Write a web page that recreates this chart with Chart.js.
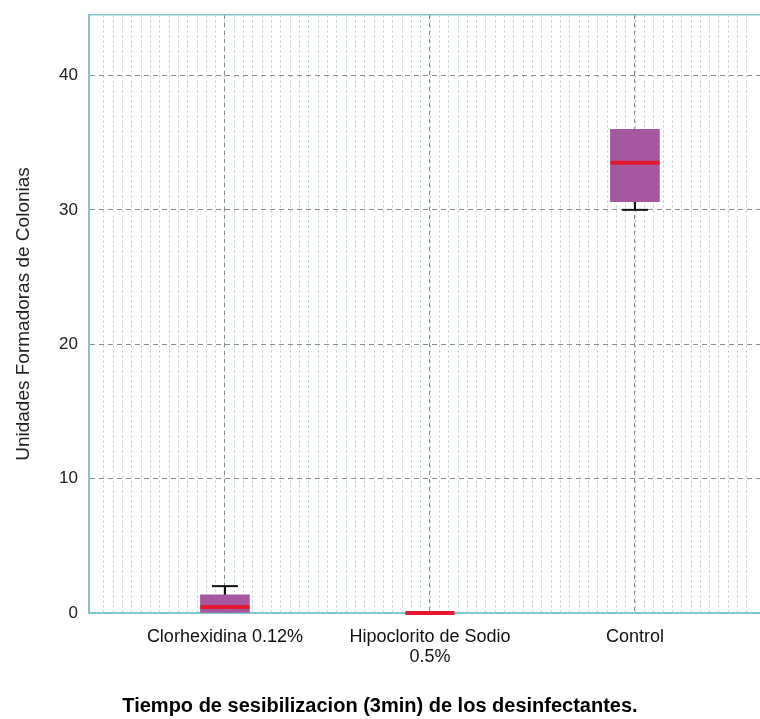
<!DOCTYPE html>
<html>
<head>
<meta charset="utf-8">
<script src="https://cdn.jsdelivr.net/npm/chart.js@4/dist/chart.umd.min.js"></script>
<style>
  html, body { margin: 0; padding: 0; background: #fff; }
  #wrap { width: 760px; height: 719px; }
</style>
</head>
<body>
<div id="wrap"><canvas id="boxChart" width="760" height="719"></canvas></div>
<script>
// data
const categories = ["Clorhexidina 0.12%", ["Hipoclorito de Sodio", "0.5%"], "Control"];
const positions = [0, 1, 2];
const q1 = [0, 0, 30.6];
const q3 = [1.35, 0, 36];
const medians = [0.45, 0, 33.5];
const whiskerLow = [0, 0, 30];
const whiskerHigh = [2, 0, 36];
const yTicks = [0, 10, 20, 30, 40];

const FONT = "'Liberation Sans', Arial, sans-serif";
const frameColor = "#7fc6c9";
const gridGray = "#8c8c8c";

const boxData = positions.map((x, i) => ({ x: x, y: [q1[i], q3[i]] }));
const upperWhisker = positions.map((x, i) => ({ x: x, y: [q3[i], whiskerHigh[i]] }));
const lowerWhisker = positions.map((x, i) => ({ x: x, y: [whiskerLow[i], q1[i]] }));
const medianData = positions.map((x, i) => ({ x: x, y: medians[i] }));
const caps = [];
positions.forEach((x, i) => {
  if (whiskerHigh[i] > q3[i]) caps.push({ x: x, y: whiskerHigh[i] });
  if (whiskerLow[i] < q1[i]) caps.push({ x: x, y: whiskerLow[i] });
});

const ctx = document.querySelector("#boxChart").getContext("2d");
const myChart = new Chart(ctx, {
  type: "bar",
  data: {
    datasets: [
      {
        data: upperWhisker,
        backgroundColor: "#111",
        barThickness: 1.5,
        grouped: false,
        order: 5,
        xAxisID: "x",
        yAxisID: "y",
      },
      {
        data: lowerWhisker,
        backgroundColor: "#111",
        barThickness: 1.5,
        grouped: false,
        order: 5,
        xAxisID: "x",
        yAxisID: "y",
      },
      {
        data: boxData,
        backgroundColor: "#a5589f",
        barThickness: 49,
        grouped: false,
        order: 4,
        xAxisID: "x",
        yAxisID: "y",
      },
      {
        type: "scatter",
        data: caps,
        pointStyle: "line",
        pointRadius: 13,
        pointBorderWidth: 2,
        pointBorderColor: "#111",
        borderColor: "#111",
        clip: false,
        order: 2,
        xAxisID: "x",
        yAxisID: "y",
      },
      {
        type: "scatter",
        data: medianData,
        pointStyle: "line",
        pointRadius: 24.5,
        pointBorderWidth: 4,
        pointBorderColor: "#e2192f",
        borderColor: "#e2192f",
        clip: false,
        order: 1,
        xAxisID: "x",
        yAxisID: "y",
      },
    ],
  },
  options: {
    responsive: false,
    animation: false,
    events: [],
    layout: { autoPadding: false, padding: { top: 15, left: 0, right: 0, bottom: 0 } },
    plugins: {
      legend: { display: false },
      tooltip: { enabled: false },
      title: {
        display: true,
        position: "bottom",
        text: "Tiempo de sesibilizacion (3min) de los desinfectantes.",
        color: "#000",
        font: { family: FONT, size: 20, weight: "bold" },
        padding: { top: 0, bottom: 1 },
      },
    },
    scales: {
      x: {
        type: "linear",
        position: "bottom",
        offset: false,
        min: -0.663,
        max: 2.61,
        afterBuildTicks: (scale) => {
          scale.ticks = positions.map((v) => ({ value: v }));
        },
        afterFit: (scale) => {
          scale.height = 81;
          scale.paddingLeft = 0;
          scale.paddingRight = 0;
        },
        ticks: {
          callback: (v) => categories[v],
          color: "#111",
          font: { family: FONT, size: 18, lineHeight: 1.12 },
          padding: 14,
          maxRotation: 0,
          autoSkip: false,
        },
        grid: { color: gridGray, drawTicks: false, lineWidth: 1, offset: false },
        border: { color: frameColor, width: 2, dash: [4, 4] },
      },
      xMinor: {
        type: "linear",
        position: "top",
        offset: false,
        min: -14.59,
        max: 57.4,
        afterFit: (scale) => {
          scale.height = 0;
          scale.paddingLeft = 0;
          scale.paddingRight = 0;
        },
        ticks: { display: false, stepSize: 1, maxTicksLimit: 200 },
        grid: { color: "rgba(110,145,155,0.5)", drawTicks: false, lineWidth: 1, offset: false },
        border: { color: frameColor, width: 1.5, dash: [2, 3] },
      },
      y: {
        min: 0,
        max: 44.5,
        afterBuildTicks: (scale) => {
          scale.ticks = yTicks.map((v) => ({ value: v }));
        },
        afterFit: (scale) => {
          scale.width = 89;
          scale.paddingTop = 0;
          scale.paddingBottom = 0;
        },
        ticks: {
          color: "#222",
          font: { family: FONT, size: 17 },
          padding: 11,
        },
        grid: {
          color: (c) => (c.tick && c.tick.value === 0 ? "rgba(0,0,0,0)" : gridGray),
          drawTicks: false,
          lineWidth: 1,
        },
        border: { color: frameColor, width: 2, dash: [5, 4] },
        title: {
          display: true,
          text: "Unidades Formadoras de Colonias",
          color: "#222",
          font: { family: FONT, size: 19 },
          padding: { top: 12, bottom: 0 },
        },
      },
    },
  },
});
</script>
</body>
</html>
